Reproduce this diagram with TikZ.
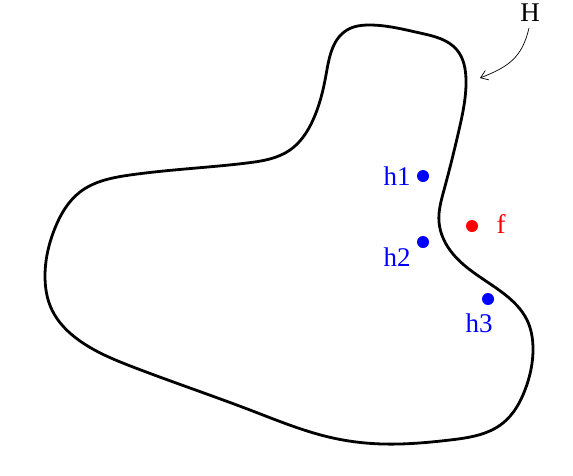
\documentclass[tikz,border=0pt]{standalone}
\usepackage{fontspec}
\setmainfont{Liberation Serif}
\usetikzlibrary{arrows.meta,hobby}
\begin{document}
\begin{tikzpicture}[x=1pt,y=-1pt,
  blob/.style={line width=2.8pt,line join=round},
  hdot/.style={circle,fill=blue,inner sep=0pt,minimum size=12pt},
  fdot/.style={circle,fill=red,inner sep=0pt,minimum size=12pt},
  lab/.style={font=\fontsize{27}{30}\selectfont,inner sep=0pt},
  pointer/.style={line width=0.7pt,-{Straight Barb[length=7pt,width=10pt]}}]
\useasboundingbox (0,0) rectangle (573,475);
\draw[blob,use Hobby shortcut,closed=true]
  (370,25) .. (420,33) .. (457,50) .. (466,80) .. (459,130) .. (444,190)
  .. (439,222) .. (453,254) .. (503,293) .. (527,320) .. (533,348)
  .. (525,390) .. (503,423) .. (450,440) .. (383,444) .. (333,438)
  .. (250,410) .. (133,367) .. (80,341) .. (52,310) .. (45,275)
  .. (55,228) .. (80,192) .. (130,175) .. (247,163) .. (290,150)
  .. (313,120) .. (326,75) .. (347,30);
\node[hdot] (p1) at (423,176) {};
\node[hdot] (p2) at (423,242) {};
\node[hdot] (p3) at (488,299) {};
\node[fdot] (pf) at (472,226) {};
\node[lab,text=blue] (t1) at (397,176) {h1};
\node[lab,text=blue] (t2) at (397,257) {h2};
\node[lab,text=blue] (t3) at (479,323) {h3};
\node[lab,text=red] (tf) at (501,224) {f};
\node[lab] (H) at (530,13) {H};
\coordinate (tip) at (480,78);
\draw[pointer] (H.south) ++(-1,6) .. controls (522,58) and (508,67) .. (tip);
\end{tikzpicture}
\end{document}
